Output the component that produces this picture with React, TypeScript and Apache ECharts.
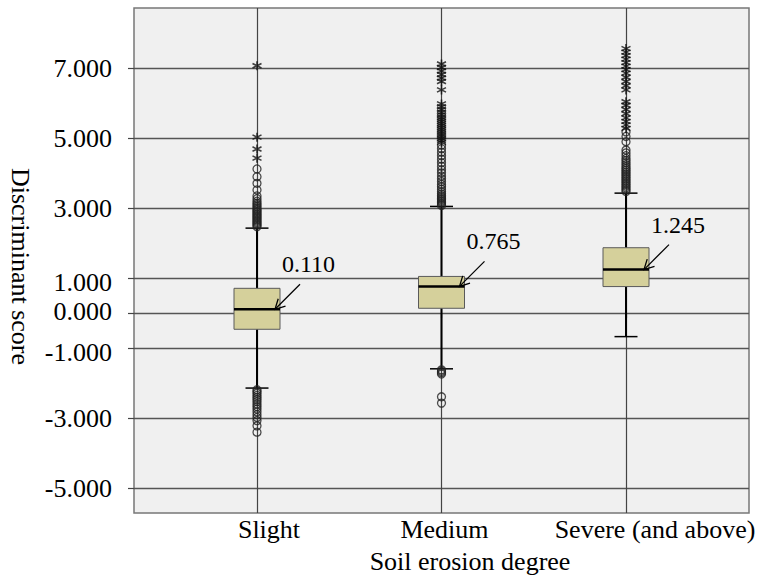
import React, { useEffect, useRef } from "react";
import * as echarts from "echarts";

const categories = ["Slight", "Medium", "Severe (and above)"];
// [lower whisker, Q1, median, Q3, upper whisker]
const slightBox = [-2.14, -0.46, 0.11, 0.71, 2.43];
const mediumBox = [-1.59, 0.14, 0.765, 1.05, 3.05];
const severeBox = [-0.67, 0.76, 1.245, 1.87, 3.43];

const slightCircles = [
  2.47, 2.51, 2.55, 2.59, 2.63, 2.67, 2.71, 2.75, 2.79, 2.83, 2.87, 2.91, 2.95, 2.99, 3.04, 3.09, 3.14, 3.2, 3.27,
  3.35, 3.52, 3.71, 3.9, 4.12, -2.19, -2.24, -2.29, -2.35, -2.41, -2.47, -2.53, -2.6, -2.67, -2.74, -2.82, -2.9,
  -2.98, -3.07, -3.22, -3.4,
];
const slightStars = [4.43, 4.69, 5.03, 7.07];
const mediumCircles = [
  3.08, 3.12, 3.16, 3.2, 3.24, 3.28, 3.32, 3.36, 3.41, 3.47, 3.54, 3.61, 3.68, 3.76, 3.84, 3.92, 4.01, 4.1, 4.2, 4.3,
  4.4, 4.5, 4.6, 4.7, 4.8, -1.62, -1.66, -1.7, -1.74, -2.39, -2.57,
];
const mediumStars = [
  4.88, 4.94, 5.0, 5.06, 5.12, 5.18, 5.24, 5.3, 5.36, 5.42, 5.48, 5.54, 5.6, 5.67, 5.74, 5.82, 5.9, 5.98, 6.38, 6.62,
  6.72, 6.82, 6.92, 7.02, 7.12,
];
const severeCircles = [
  3.48, 3.53, 3.58, 3.63, 3.68, 3.73, 3.78, 3.83, 3.88, 3.93, 3.98, 4.03, 4.08, 4.13, 4.18, 4.24, 4.3, 4.36, 4.42, 4.5,
  4.58, 4.66, 4.9, 5.05, 5.18,
];
const severeStars = [
  5.28, 5.38, 5.48, 5.58, 5.7, 5.82, 5.94, 6.04, 6.38, 6.5, 6.62, 6.74, 6.86, 6.96, 7.06, 7.16, 7.26, 7.36, 7.46, 7.56,
];

const yTicks = [-5, -3, -1, 0, 1, 3, 5, 7];
const xTicks = [1, 2, 3];

const FONT = "'Liberation Serif', 'Times New Roman', serif";

export default function App() {
  const ref = useRef<HTMLDivElement>(null);
  useEffect(() => {
    if (!ref.current) return;
    const chart = echarts.init(ref.current, undefined, { renderer: "svg" });

    const boxes = [slightBox, mediumBox, severeBox];
    const boxData = boxes.map((b, i) => [i + 1, ...b]);
    const circleData = [slightCircles, mediumCircles, severeCircles].flatMap((arr, i) => arr.map((v) => [i + 1, v]));
    const starData = [slightStars, mediumStars, severeStars].flatMap((arr, i) => arr.map((v) => [i + 1, v]));

    const labelText = { fontSize: 26, fontFamily: FONT, color: "#000" };
    const yLabelText = { fontSize: 26, fontFamily: FONT, color: "#000", lineHeight: 26 };

    const option: any = {
      animation: false,
      backgroundColor: "#ffffff",
      grid: {
        left: 134,
        top: 8,
        width: 615,
        height: 505,
        show: true,
        backgroundColor: "#f0f0f0",
        borderColor: "#777",
        borderWidth: 1.5,
        containLabel: false,
        outerBoundsMode: "none",
      },
      xAxis: {
        type: "value",
        min: 1 / 3,
        max: 11 / 3,
        axisLine: { show: false },
        axisTick: { show: true, customValues: xTicks, length: 5, lineStyle: { color: "#444", width: 1.2 } },
        splitLine: { show: true, lineStyle: { color: "#444", width: 1.2 } },
        axisLabel: {
          customValues: xTicks,
          margin: 3,
          formatter: (v: number) => {
            const i = Math.round(v) - 1;
            const key = ["a", "b", "c"][i];
            return `{${key}|${categories[i]}}`;
          },
          rich: {
            a: { ...labelText, padding: [0, 0, 0, 24] },
            b: { ...labelText, padding: [0, 0, 0, 6] },
            c: { ...labelText, padding: [0, 0, 0, 58] },
          },
        },
        name: "Soil erosion degree",
        nameLocation: "middle",
        nameGap: 35,
        nameTextStyle: { fontSize: 26, fontFamily: FONT, color: "#000", padding: [0, 0, 0, 57] },
      },
      yAxis: {
        type: "value",
        min: -5.71,
        max: 8.72,
        axisLine: { show: false },
        axisTick: { show: true, customValues: yTicks, length: 6, lineStyle: { color: "#444", width: 1.2 } },
        splitLine: { show: true, lineStyle: { color: "#555", width: 1.3 } },
        axisLabel: {
          customValues: yTicks,
          margin: 22,
          formatter: (v: number) => {
            const t = v.toFixed(3);
            if (Math.abs(v - 1) < 1e-9) return `{dn|${t}}`;
            if (Math.abs(v) < 1e-9) return `{up|${t}}`;
            if (Math.abs(v + 1) < 1e-9) return `{dn2|${t}}`;
            return `{n|${t}}`;
          },
          rich: {
            n: { ...yLabelText },
            dn: { ...yLabelText, padding: [8, 0, 0, 0] },
            dn2: { ...yLabelText, padding: [8, 0, 0, 0] },
            up: { ...yLabelText, padding: [0, 0, 4, 0] },
          },
        },
        name: "Discriminant score",
        nameLocation: "middle",
        nameRotate: -90,
        nameGap: 96,
        nameTextStyle: { fontSize: 26, fontFamily: FONT, color: "#000", padding: [0, 0, 0, 12] },
      },
      series: [
        {
          type: "custom",
          z: 2,
          data: boxData,
          encode: { x: 0, y: [1, 2, 3, 4, 5] },
          renderItem: (params: any, api: any) => {
            const x = api.value(0);
            const lo = api.coord([x, api.value(1)]);
            const q1 = api.coord([x, api.value(2)]);
            const med = api.coord([x, api.value(3)]);
            const q3 = api.coord([x, api.value(4)]);
            const hi = api.coord([x, api.value(5)]);
            const cx = med[0];
            const hb = 23;
            const hc = 11.5;
            const tip = [cx + 18, med[1]];
            const start = [tip[0] + 25, tip[1] - 25];
            const dx = start[0] - tip[0];
            const dy = start[1] - tip[1];
            const len = Math.sqrt(dx * dx + dy * dy);
            const ux = dx / len;
            const uy = dy / len;
            const ang = (28 * Math.PI) / 180;
            const arm = 11;
            const rot = (a: number) => [
              tip[0] + arm * (ux * Math.cos(a) - uy * Math.sin(a)),
              tip[1] + arm * (ux * Math.sin(a) + uy * Math.cos(a)),
            ];
            return {
              type: "group",
              children: [
                { type: "line", shape: { x1: cx, y1: q3[1], x2: cx, y2: hi[1] }, style: { stroke: "#000", lineWidth: 2 } },
                { type: "line", shape: { x1: cx, y1: q1[1], x2: cx, y2: lo[1] }, style: { stroke: "#000", lineWidth: 2 } },
                { type: "line", shape: { x1: cx - hc, y1: hi[1], x2: cx + hc, y2: hi[1] }, style: { stroke: "#000", lineWidth: 1.5 } },
                { type: "line", shape: { x1: cx - hc, y1: lo[1], x2: cx + hc, y2: lo[1] }, style: { stroke: "#000", lineWidth: 1.5 } },
                {
                  type: "rect",
                  shape: { x: cx - hb, y: q3[1], width: 2 * hb, height: q1[1] - q3[1] },
                  style: { fill: "#d5d09b", stroke: "#5a5a5a", lineWidth: 1 },
                },
                { type: "line", shape: { x1: cx - hb, y1: med[1], x2: cx + hb, y2: med[1] }, style: { stroke: "#000", lineWidth: 2.5 } },
                { type: "line", shape: { x1: start[0], y1: start[1], x2: tip[0], y2: tip[1] }, style: { stroke: "#000", lineWidth: 1.3 } },
                { type: "polyline", shape: { points: [rot(ang), tip, rot(-ang)] }, style: { stroke: "#000", lineWidth: 1.3, fill: "none" } },
                {
                  type: "text",
                  x: tip[0] + 7,
                  y: tip[1] - 45,
                  style: {
                    text: api.value(3).toFixed(3),
                    fontSize: 24,
                    fontFamily: FONT,
                    fill: "#000",
                    align: "left",
                    verticalAlign: "middle",
                  },
                },
              ],
            };
          },
        },
        {
          type: "scatter",
          z: 3,
          data: circleData,
          symbol: "circle",
          symbolSize: 8,
          itemStyle: { color: "rgba(0,0,0,0)", borderColor: "#222", borderWidth: 1.3 },
        },
        {
          type: "scatter",
          z: 3,
          data: starData,
          symbol: "path://M0,-10L0,10M-8.66,-5L8.66,5M-8.66,5L8.66,-5",
          symbolSize: 9,
          itemStyle: { color: "rgba(0,0,0,0)", borderColor: "#111", borderWidth: 1.6 },
        },
      ],
    };
    chart.setOption(option);
    return () => chart.dispose();
  }, []);
  return <div ref={ref} style={{ position: "absolute", left: 0, top: 0, width: 767, height: 583 }} />;
}
